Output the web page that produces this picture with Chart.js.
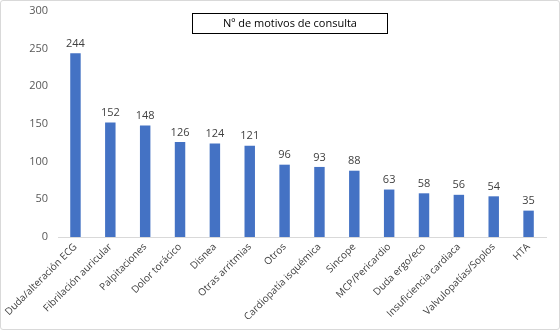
<!DOCTYPE html>
<html><head><meta charset="utf-8">
<script src="https://cdn.jsdelivr.net/npm/chart.js@4"></script>
<style>
html,body{margin:0;padding:0;background:#fff;}
#wrap{position:absolute;left:0;top:0;width:558px;height:328px;border:1px solid #d9d9d9;border-radius:3px;}
canvas{display:block;}
</style></head><body>
<div id="wrap"><canvas id="c" width="558" height="328"></canvas></div>
<script>
const categories = ["Duda/alteración ECG","Fibrilación auricular","Palpitaciones","Dolor torácico","Disnea","Otras arritmias","Otros","Cardiopatía isquémica","Sincope","MCP/Pericardio","Duda ergo/eco","Insuficiencia cardiaca","Valvulopatías/Soplos","HTA"];
const values = [244,152,148,126,124,121,96,93,88,63,58,56,54,35];
const yTicks = [0,50,100,150,200,250,300];
const seriesName = "Nº de motivos de consulta";

const FONT = "'Open Sans', 'Liberation Sans', sans-serif";

const valueLabels = {
  id:'valueLabels',
  afterDatasetsDraw(chart){
    const ctx = chart.ctx;
    const meta = chart.getDatasetMeta(0);
    ctx.save();
    ctx.font = "11px " + FONT;
    ctx.fillStyle = "#404040";
    ctx.textAlign = "center";
    ctx.textBaseline = "bottom";
    meta.data.forEach((bar,i)=>{
      ctx.fillText(String(values[i]), bar.x, bar.y - 4);
    });
    ctx.restore();
  }
};
const legendBox = {
  id:'legendBox',
  afterDraw(chart){
    const ctx = chart.ctx;
    ctx.save();
    ctx.strokeStyle = "#000";
    ctx.lineWidth = 1;
    ctx.strokeRect(191.5, 12.5, 195, 20);
    ctx.font = "11px " + FONT;
    ctx.fillStyle = "#000";
    ctx.textAlign = "center";
    ctx.textBaseline = "middle";
    ctx.fillText(seriesName, 289, 23);
    ctx.restore();
  }
};

new Chart(document.getElementById('c'), {
  type:'bar',
  data:{labels:categories, datasets:[{label:seriesName, data:values, backgroundColor:'#4472c4', barPercentage:0.3, categoryPercentage:1}]},
  options:{
    responsive:false, animation:false,
    layout:{padding:{top:10,right:13,left:0,bottom:0}},
    plugins:{legend:{display:false}, title:{display:false}, tooltip:{enabled:false}},
    scales:{
      y:{min:0,max:300,
        afterBuildTicks(s){ s.ticks = yTicks.map(v=>({value:v})); },
        afterFit(s){ s.width = 56; },
        grid:{display:false, drawTicks:true, tickLength:10, tickColor:'rgba(0,0,0,0)'},
        border:{display:false},
        ticks:{padding:0, color:'#595959', font:{family:FONT,size:11}}
      },
      x:{
        afterFit(s){ s.height = 92; },
        grid:{display:false, drawTicks:false},
        border:{display:true, color:'#d9d9d9', width:1},
        ticks:{maxRotation:45, minRotation:45, autoSkip:false, padding:4, color:'#404040', font:{family:FONT,size:10}}
      }
    }
  },
  plugins:[valueLabels, legendBox]
});
</script>
</body></html>
